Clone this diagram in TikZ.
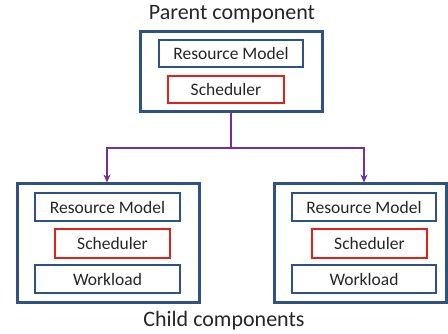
\documentclass[tikz,border=0pt]{standalone}
\usepackage{fontspec}
\setmainfont{Carlito}
\usetikzlibrary{positioning, calc, arrows.meta}
\definecolor{boxblue}{HTML}{2F5283}
\definecolor{schedred}{HTML}{E0201B}
\definecolor{linkpurple}{HTML}{7030A0}
\definecolor{textgray}{HTML}{262626}

\begin{document}
\begin{tikzpicture}[
    x=1pt, y=-1pt,
    outerbox/.style={
        draw=boxblue,
        line width=3pt,
        fill=white,
        inner sep=0pt
    },
    partbox/.style={
        draw=boxblue,
        line width=2.8pt,
        fill=white,
        inner sep=0pt,
        text=textgray,
        font=\fontsize{17.5}{19}\selectfont
    },
    schedbox/.style={
        partbox,
        draw=schedred
    },
    caption/.style={
        text=textgray,
        font=\fontsize{22}{24}\selectfont
    }
]

\useasboundingbox (0,0) rectangle (448,334);

% --- PARENT ---
\node[outerbox, minimum width=182pt, minimum height=80pt] (parent) at (231,72) {};
\node[partbox, minimum width=144pt, minimum height=27pt] (prm) at (231,53.5) {Resource Model};
\node[schedbox, minimum width=116pt, minimum height=27pt] (psch) at (226,89.5) {Scheduler};
\node[caption] (ptitle) at (232,14) {Parent component};

% --- LEFT CHILD ---
\node[outerbox, minimum width=182pt, minimum height=119pt] (lc) at (108,243.5) {};
\node[partbox, minimum width=145pt, minimum height=28pt] (lrm) at (107.5,207) {Resource Model};
\node[schedbox, minimum width=115pt, minimum height=29pt] (lsch) at (112.5,243.5) {Scheduler};
\node[partbox, minimum width=145pt, minimum height=28pt] (lwl) at (107.5,279) {Workload};

% --- RIGHT CHILD ---
\node[outerbox, minimum width=172pt, minimum height=119pt] (rc) at (360,243.5) {};
\node[partbox, minimum width=144pt, minimum height=28pt] (rrm) at (364,207) {Resource Model};
\node[schedbox, minimum width=115pt, minimum height=29pt] (rsch) at (369.5,243.5) {Scheduler};
\node[partbox, minimum width=144pt, minimum height=28pt] (rwl) at (364,279) {Workload};

\node[caption] (ctitle) at (224,321) {Child components};

% --- ARROWS ---
\coordinate (split) at (231,148);
\begin{scope}[linkpurple, line width=1.6pt, -{Stealth[length=8pt,width=7pt]}]
    \draw[-] (parent.south) -- (split);
    \draw (split) -| ([xshift=-1pt]lc.north);
    \draw (split) -| ([xshift=4pt]rc.north);
\end{scope}

\end{tikzpicture}
\end{document}
